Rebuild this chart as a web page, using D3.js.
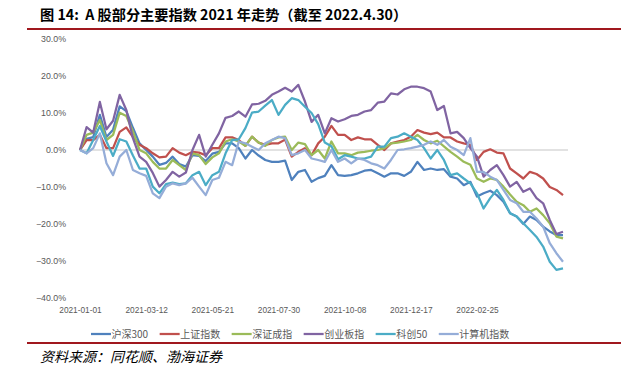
<!DOCTYPE html>
<html><head><meta charset="utf-8">
<script src="https://cdn.jsdelivr.net/npm/d3@7/dist/d3.min.js"></script>
<style>body{margin:0;background:#fff}svg{display:block}</style>
</head><body>
<svg id="c" width="626" height="369"></svg>
<script>
// ---- data ----
const tickLabels = ["2021-01-01","2021-03-12","2021-05-21","2021-07-30","2021-10-08","2021-12-17","2022-02-25"];
const yTicks = [-40,-30,-20,-10,0,10,20,30];
const seriesNames = ["沪深300","上证指数","深证成指","创业板指","科创50","计算机指数"];
const seriesColors = ["#4F81BD","#C0504D","#9BBB59","#8064A2","#4BACC6","#95ADD8"];
const hs300 = [0,3,3.5,9.5,3.5,5.5,11.8,10.5,6,1.8, 0,-1.8,-4,-3.5,-1.8,-3.8,-4.5,-1.4,-1.6,-3, -1,-0.5,1.8,1.8,0.5,-2.3,0,-1.5,-2.7,-3.2, -3.2,-2.9,-8.1,-5.9,-5.4,-8.6,-7.6,-7,-4.1,-6.8, -7,-6.8,-6.3,-5.6,-5.4,-6.3,-7.2,-6.3,-6.3,-7, -5.9,-3.2,-5.4,-5,-5.4,-5.2,-7.2,-7.7,-9.5,-8.6, -12.6,-11.7,-11,-12.2,-14,-17.1,-18,-20,-18,-18.9, -20.7,-22,-23,-23];
const shzs = [0,2.7,2.7,4.1,0.5,0.5,4.9,6.1,3.5,1.4, 0.5,-0.9,-2,-1.8,0.5,-0.7,-1.4,-0.5,-0.7,-1.4, 0.5,0.5,3.4,3.4,2.7,1.1,3.6,2,1.4,1.8, 1.8,2.8,-1.8,-0.5,0.5,-1.4,1.8,3.6,6.5,4.1, 4.1,2.7,3.4,2.9,2.9,1.4,0,1.8,2.3,2.7, 3.6,5.4,4.7,4.3,4.7,3.4,3.4,2.3,1.8,1.4, -2.7,-0.5,0.2,-0.7,-0.9,-5,-6.3,-7.7,-5.9,-6.5, -7.7,-10,-10.8,-12.2];
const szcz = [0,4.1,4.7,8.1,2.7,4.1,10.1,9.2,5,0, -0.9,-3.2,-5,-5,-2.7,-4.1,-5.4,-0.9,-1.4,-3.8, -2,-0.9,2.3,2.9,2.3,1.1,3.6,2,1.1,2.7, 3.4,3.6,0,2,1.6,-1.4,0,-2.3,2.3,-0.9, -0.9,-1.4,-0.7,-0.5,-0.2,0,0.5,1.8,2,2.3, 2.7,4.1,2.7,1.8,2.5,1,-0.5,-1.8,-3.2,-4, -7.7,-8.6,-7.7,-8.1,-9.9,-12,-14,-14.9,-16.7,-15.8, -17.6,-19.8,-23.4,-23.9];
const cybz = [0,6.2,4.7,13,5.6,7.9,14.9,10.8,3.2,-1.8, -3.2,-6.2,-9.9,-8.1,-5.9,-7.2,-6.1,0,4.1,-1.8, 1.4,4.5,8.7,9.2,10.4,9,12.3,12.5,13.3,14.9, 15.8,16.8,15.8,17.6,13.1,7.6,9.5,4.5,8.6,7.7, 8.3,9.2,9.5,10.4,10.8,12.8,13.1,15.3,15,16.4, 17.1,17.1,16.7,15.8,10.8,11.9,4.5,4.9,3.2,0.5, -1.8,-7.2,-5.4,-4.1,-6.8,-9.9,-8.6,-11.3,-10.4,-13, -14.4,-18.9,-22.7,-22.1];
const kc50 = [0,-0.9,2.7,6.5,2.3,-1.6,2.9,2.3,-1.5,-5, -5,-9.9,-11.7,-9.2,-8.8,-9.2,-9,-6.8,-5.9,-9.5, -6.8,-5.9,-0.9,2.7,2.9,5.9,10.1,10.4,12,13.5, 9.5,12.2,14,13.5,11.7,10,7,2,1,-2.5, -1.4,-1.8,-2.3,-2.3,-1.8,0.9,0.9,3.2,3.6,4.5, 3.6,2.7,0.5,-2.3,0,-2.7,-6.8,-6.3,-7.7,-9, -11.7,-15.8,-13,-10.8,-13.5,-17.1,-18,-19.8,-21.6,-23.5, -26.1,-30.2,-32.4,-32];
const jsj = [0,-0.9,0.5,4.5,-3.6,-6.8,-1.8,0,-5.4,-6.3, -7,-11.7,-13,-9.9,-9,-9.5,-9,-7.5,-9.9,-12.2, -8.1,-7.5,-3.2,-4.1,2.3,1.8,0.9,0,1.8,2.7, 3.6,3.2,-1.4,-0.9,0,-2.3,-2.7,-3.2,0,-3.2, -2.3,-3.6,-2.3,-2.7,-3.6,-4.1,-5,-2.7,0,0.2, 0.5,0.9,1.4,2.3,1.4,2.7,0.9,0,-1.4,3.2, -5.9,-5.9,-7.2,-8.1,-10.8,-13.5,-14.4,-16.7,-16.7,-18.5, -20.7,-25.2,-27.9,-30.2];
const seriesValues = [hs300, shzs, szcz, cybz, kc50, jsj];
const labelEvery = 10;

// ---- chart ----
const svg = d3.select("#c");
const N = hs300.length;
const cats = d3.range(N);
const x = d3.scalePoint().domain(cats).range([80, 563]);
const y = d3.scaleLinear().domain([-40, 30]).range([298, 39]);

// title
svg.append("text").attr("x", 40).attr("y", 20)
  .attr("font-family", "'Noto Sans CJK SC', sans-serif").attr("font-weight", "bold")
  .attr("font-size", 14.2).attr("fill", "#000")
  .text("图 14:\u00a0\u00a0A 股部分主要指数 2021 年走势（截至 2022.4.30）");
svg.append("line").attr("x1", 27).attr("x2", 621).attr("y1", 29).attr("y2", 29)
  .attr("stroke", "#A0181E").attr("stroke-width", 2);
svg.append("line").attr("x1", 27).attr("x2", 621).attr("y1", 343).attr("y2", 343)
  .attr("stroke", "#A0181E").attr("stroke-width", 2);
svg.append("text").attr("x", 40).attr("y", 362)
  .attr("font-family", "'Noto Sans CJK SC', sans-serif").attr("font-style", "italic")
  .attr("font-size", 14).attr("fill", "#000")
  .text("资料来源：同花顺、渤海证券");

// y axis
const yAxis = svg.append("g").attr("transform", "translate(67,0)")
  .call(d3.axisLeft(y).tickValues(yTicks).tickSize(0).tickPadding(1)
    .tickFormat(d => d3.format(".1f")(d) + "%"));
yAxis.select(".domain").remove();
yAxis.selectAll("text").attr("font-family", "'Liberation Sans', Arial, sans-serif")
  .attr("font-size", 8.8).attr("fill", "#595959");

// zero line
svg.append("line").attr("x1", 80).attr("x2", 568).attr("y1", y(0)).attr("y2", y(0))
  .attr("stroke", "#D9D9D9").attr("stroke-width", 1.5);

// x axis
const xAxis = svg.append("g").attr("transform", `translate(0,${y(-40)})`)
  .call(d3.axisBottom(x).tickValues(cats.filter(i => i % labelEvery === 0 && i / labelEvery < tickLabels.length))
    .tickSize(0).tickPadding(9).tickFormat(i => tickLabels[i / labelEvery]));
xAxis.select(".domain").remove();
xAxis.selectAll("text").attr("font-family", "'Liberation Sans', Arial, sans-serif")
  .attr("font-size", 8.3).attr("fill", "#595959");

// lines
const line = d3.line().x((d, i) => x(i)).y(d => y(d));
seriesValues.forEach((vals, k) => {
  svg.append("path").datum(vals).attr("d", line)
    .attr("fill", "none").attr("stroke", seriesColors[k])
    .attr("stroke-width", 2.25).attr("stroke-linejoin", "round");
});

// legend
const lg = svg.append("g").attr("transform", "translate(91,334)");
let lx = 0;
seriesNames.forEach((name, k) => {
  lg.append("line").attr("x1", lx).attr("x2", lx + 20).attr("y1", 0).attr("y2", 0)
    .attr("stroke", seriesColors[k]).attr("stroke-width", 2.25);
  const t = lg.append("text").attr("x", lx + 20.5).attr("y", 0).attr("dy", "0.35em")
    .attr("font-family", "'Noto Sans CJK SC', sans-serif").attr("font-size", 10)
    .attr("fill", "#595959").text(name);
  lx += 20.5 + t.node().getComputedTextLength() + 11.5;
});
</script>
</body></html>
